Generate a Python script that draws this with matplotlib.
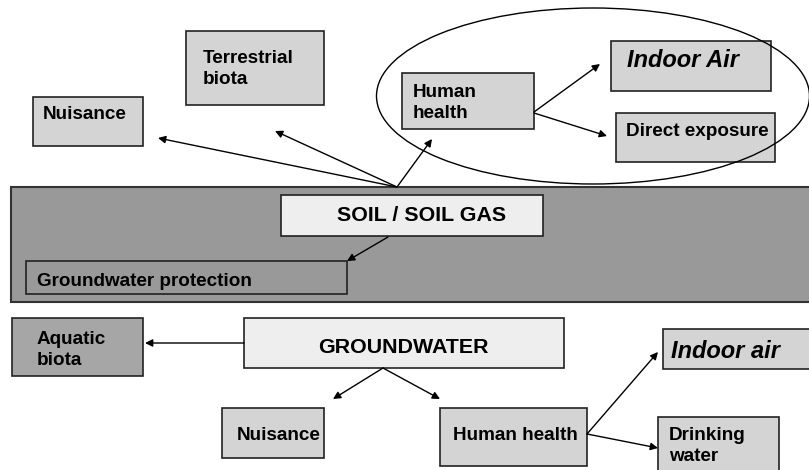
import matplotlib.pyplot as plt
from matplotlib.patches import Rectangle, Ellipse

plt.rcParams['font.family'] = ['Liberation Sans', 'DejaVu Sans']

# box labels (text, italic?)
labels = ["Terrestrial\nbiota", "Nuisance", "Human\nhealth", "Indoor Air", "Direct exposure",
          "SOIL / SOIL GAS", "Groundwater protection",
          "Aquatic\nbiota", "GROUNDWATER", "Nuisance", "Human health", "Indoor air",
          "Drinking\nwater"]
italic = [False, False, False, True, False, False, False, False, False, False, False, True, False]
font_sizes = [13.6, 13.6, 13.6, 17, 13.6, 15.4, 13.6, 13.6, 15.4, 13.6, 13.6, 17, 13.6]

# layout in pixels: box (x0, y0, x1, y1), text anchor (x, first baseline), alignment
boxes = [(186, 31, 324, 105), (33, 97, 143, 146), (402, 73, 534, 129), (611, 41, 771, 91),
         (616, 113, 775, 162), (281, 195, 543, 236), (26, 261, 347, 294),
         (12, 318, 143, 376), (244, 318, 564, 368), (222, 408, 324, 458),
         (440, 408, 587, 466), (663, 329, 812, 369), (658, 417, 779, 475)]
text_pos = [(203, 63), (43, 119), (413, 97), (627, 67), (626, 136), (422, 221), (37, 286),
            (37, 344), (403, 353), (237, 440), (453, 440), (671, 358), (669, 440)]
centered = [False, False, False, False, False, True, False, False, True, False, False, False, False]

LIGHT = '#d4d4d4'
PALE = '#eeeeee'
BAND = '#999999'
fills = [LIGHT, LIGHT, LIGHT, LIGHT, LIGHT, PALE, BAND, '#a6a6a6', PALE, LIGHT, LIGHT, LIGHT, LIGHT]

# arrows (from -> to)
arrows = [((397, 187), (158, 138)), ((397, 187), (275, 131)), ((397, 187), (432, 139)),
          ((534, 112), (600, 64)), ((534, 113), (607, 136)), ((388, 237), (347, 261)),
          ((244, 343), (145, 343)), ((383, 368), (333, 399)), ((383, 368), (440, 399)),
          ((587, 434), (658, 352)), ((587, 434), (658, 448))]

fig = plt.figure(figsize=(8.09, 4.70), dpi=100)
ax = fig.add_axes([0, 0, 1, 1])
ax.set_xlim(0, 809)
ax.set_ylim(470, 0)
ax.axis('off')

# soil band behind everything
ax.add_patch(Rectangle((11, 187), 805, 115, facecolor=BAND, edgecolor='#333333', lw=1.5, zorder=1))

for i, (x0, y0, x1, y1) in enumerate(boxes):
    ax.add_patch(Rectangle((x0, y0), x1 - x0, y1 - y0, facecolor=fills[i],
                           edgecolor='#222222', lw=1.2, zorder=2))
    tx, ty = text_pos[i]
    fs = font_sizes[i]
    step = 21
    for k, line in enumerate(labels[i].split('\n')):
        ax.text(tx, ty + k * step, line, fontsize=fs, fontweight='bold',
                fontstyle='italic' if italic[i] else 'normal',
                ha='center' if centered[i] else 'left', va='baseline', zorder=4)

ax.add_patch(Ellipse((593, 96), 433, 176, fill=False, edgecolor='black', lw=1.0, zorder=3))

for (x0, y0), (x1, y1) in arrows:
    ax.annotate('', xy=(x1, y1), xytext=(x0, y0),
                arrowprops=dict(arrowstyle='-|>', mutation_scale=11, lw=1.0, color='black',
                                shrinkA=0, shrinkB=0), zorder=5)

fig.savefig('out.png', dpi=100)
